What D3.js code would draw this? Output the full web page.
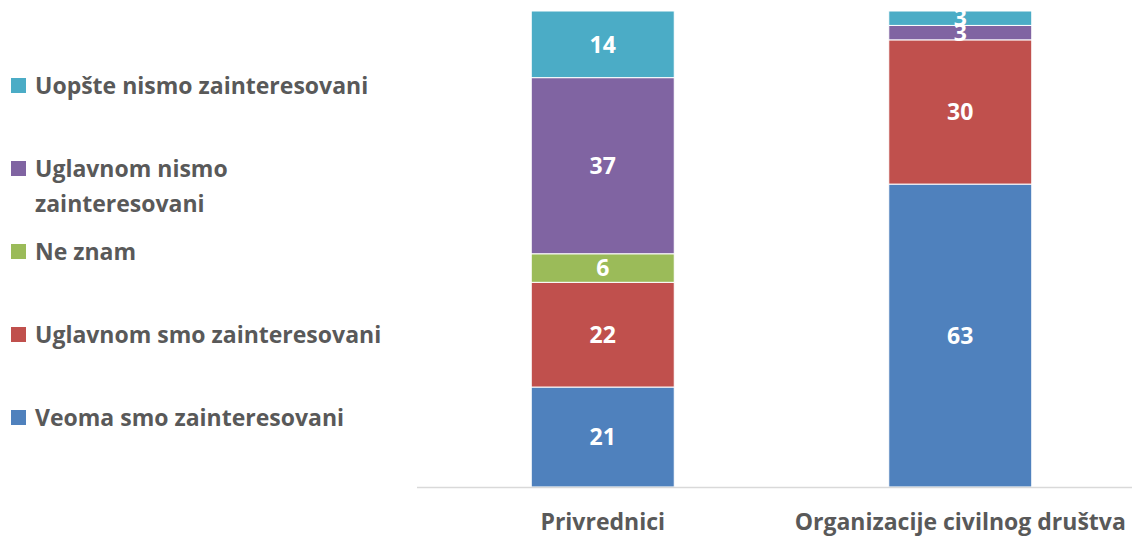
<!DOCTYPE html>
<html>
<head>
<meta charset="utf-8">
<script src="https://cdn.jsdelivr.net/npm/d3@7"></script>
<style>
  body { margin: 0; background: #fff; }
  text { font-family: "Open Sans", sans-serif; font-weight: bold; }
</style>
</head>
<body>
<svg width="1132" height="537"></svg>
<script>
var categories = ["Privrednici", "Organizacije civilnog društva"];
var seriesNames = ["Veoma smo zainteresovani", "Uglavnom smo zainteresovani", "Ne znam", "Uglavnom nismo zainteresovani", "Uopšte nismo zainteresovani"];
var veoma = [21, 63];
var uglavnomSmo = [22, 30];
var neZnam = [6, 0];
var uglavnomNismo = [37, 3];
var uopste = [14, 3];
var colors = ["#4F81BD", "#C0504D", "#9BBB59", "#8064A2", "#4BACC6"];

var svg = d3.select("svg");
var width = +svg.attr("width");
var plotTop = 11, plotBottom = 487;
var fontSize = "23px";

var table = categories.map(function(c, i) {
    return {
        cat: c,
        s0: veoma[i], s1: uglavnomSmo[i], s2: neZnam[i], s3: uglavnomNismo[i], s4: uopste[i]
    };
});
var keys = ["s0", "s1", "s2", "s3", "s4"];

// 100% stacked columns
var stack = d3.stack().keys(keys).offset(d3.stackOffsetExpand);
var layers = stack(table);

var x = d3.scaleBand().domain(categories).range([424, 1139]).paddingInner(0.6).paddingOuter(0.3);
var y = d3.scaleLinear().domain([0, 1]).range([plotBottom, plotTop]);

var g = svg.append("g");

var layer = g.selectAll(".layer")
    .data(layers)
    .enter().append("g")
    .attr("class", "layer")
    .attr("fill", function(d, i) { return colors[i]; });

layer.selectAll("rect")
    .data(function(d) { return d; })
    .enter().append("rect")
    .attr("x", function(d) { return x(d.data.cat); })
    .attr("width", x.bandwidth())
    .attr("y", function(d) { return y(d[1]); })
    .attr("height", function(d) { return y(d[0]) - y(d[1]); })
    .attr("stroke", "#fff")
    .attr("stroke-width", 1);

// data labels
layers.forEach(function(L) {
    g.selectAll(null)
        .data(L.filter(function(d) { return d.data[L.key] > 0; }))
        .enter().append("text")
        .attr("x", function(d) { return x(d.data.cat) + x.bandwidth() / 2; })
        .attr("y", function(d) { return (y(d[0]) + y(d[1])) / 2; })
        .attr("dy", "0.36em")
        .attr("text-anchor", "middle")
        .attr("fill", "#fff")
        .style("font-size", fontSize)
        .text(function(d) { return d.data[L.key]; });
});

// axis line
g.append("line")
    .attr("x1", 417).attr("x2", width)
    .attr("y1", plotBottom + 0.5).attr("y2", plotBottom + 0.5)
    .attr("stroke", "#d9d9d9")
    .attr("stroke-width", 1.5);

var xAxis = g.append("g")
    .attr("transform", "translate(0," + plotBottom + ")")
    .call(d3.axisBottom(x).tickSize(0).tickPadding(27));
xAxis.select(".domain").remove();
xAxis.selectAll("text")
    .attr("fill", "#595959")
    .style("font-size", fontSize)
    .style("font-family", "'Open Sans', sans-serif")
    .style("font-weight", "bold");

// legend, top item is the last series
var legendItems = [
    { i: 4, lines: ["Uopšte nismo zainteresovani"] },
    { i: 3, lines: ["Uglavnom nismo", "zainteresovani"] },
    { i: 2, lines: ["Ne znam"] },
    { i: 1, lines: ["Uglavnom smo zainteresovani"] },
    { i: 0, lines: ["Veoma smo zainteresovani"] }
];
var legend = svg.append("g");
legendItems.forEach(function(item, k) {
    var cy = 86 + 83 * k;
    legend.append("rect")
        .attr("x", 11).attr("y", cy - 8)
        .attr("width", 15).attr("height", 15)
        .attr("fill", colors[item.i]);
    item.lines.forEach(function(line, j) {
        legend.append("text")
            .attr("x", 35)
            .attr("y", cy + j * 35)
            .attr("dy", "0.36em")
            .attr("fill", "#595959")
            .style("font-size", fontSize)
            .text(line);
    });
});
</script>
</body>
</html>
